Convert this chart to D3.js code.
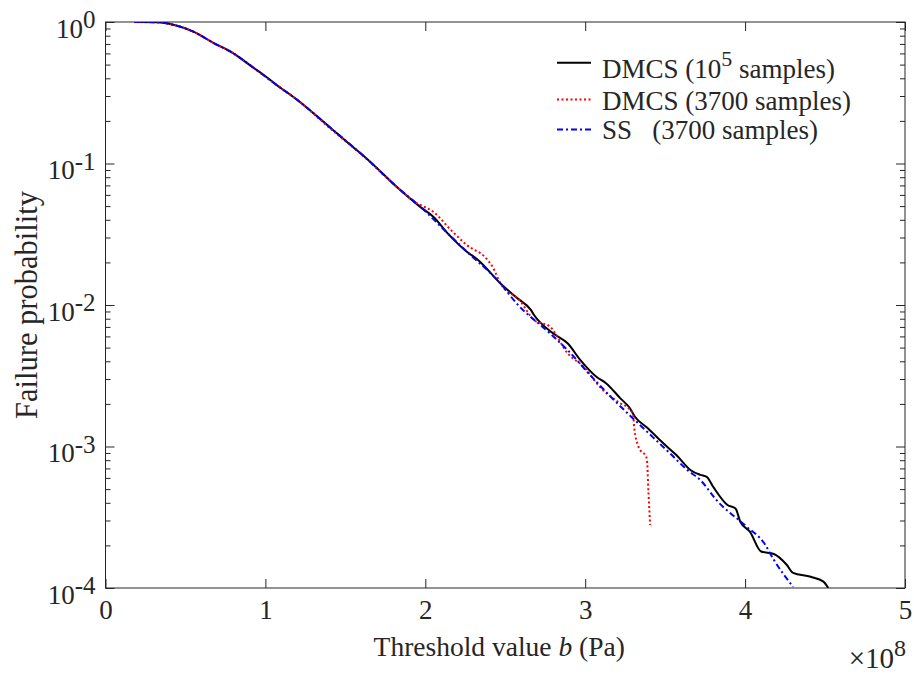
<!DOCTYPE html>
<html><head><meta charset="utf-8">
<script src="https://cdn.jsdelivr.net/npm/d3@7"></script>
<style>
body{margin:0;background:#fff}
svg{display:block}
text{font-family:"Liberation Serif","Times New Roman",serif;fill:#262626}
</style>
</head><body>
<svg id="chart" width="914" height="677"></svg>
<script>
// ---- data (b in units of 1e8 Pa, failure probability) ----
const xTickValues = [0, 1, 2, 3, 4, 5];
const yTickExponents = [0, -1, -2, -3, -4];
const xMultiplierExp = "8";

const dmcsRefB = [0.18,0.32,0.43,0.55,0.68,0.79,0.93,0.99,1.07,1.20,1.41,1.57,1.62,1.82,1.98,2.05,2.14,2.26,2.33,2.47,2.57,2.66,2.68,2.80,2.89,2.97,3.07,3.13,3.22,3.28,3.31,3.39,3.49,3.57,3.66,3.72,3.76,3.80,3.89,3.94,3.97,4.03,4.10,4.18,4.26,4.30,4.41,4.49,4.52];
const dmcsRefP = [1.0,0.997,0.953,0.855,0.706,0.61,0.471,0.422,0.359,0.281,0.1774,0.1245,0.1117,0.0686,0.0482,0.0421,0.0321,0.0238,0.0208,0.0142,0.0113,0.00923,0.0085,0.0063,0.00536,0.00408,0.00311,0.0028,0.00219,0.00186,0.00163,0.00135,0.00105,0.00087,0.00068,0.00063,0.00061,0.00052,0.000386,0.000365,0.000294,0.00025,0.000181,0.000174,0.000146,0.000128,0.00012,0.000111,0.0001];

const dmcsB = [0.18,0.32,0.43,0.55,0.68,0.79,0.93,1.07,1.20,1.41,1.62,1.82,1.95,1.97,2.05,2.16,2.26,2.38,2.42,2.47,2.59,2.68,2.78,2.89,2.99,3.09,3.22,3.26,3.30,3.306,3.333,3.385,3.396,3.406];
const dmcsP = [1.0,0.997,0.953,0.855,0.706,0.61,0.471,0.359,0.281,0.175,0.111,0.0686,0.0523,0.0509,0.0456,0.0339,0.0265,0.0214,0.0187,0.0142,0.0108,0.00783,0.00703,0.00456,0.00366,0.00265,0.00202,0.00191,0.00167,0.00138,0.000998,0.000826,0.000467,0.000279];

const ssB = [0.18,0.32,0.43,0.55,0.68,0.79,0.93,1.07,1.20,1.41,1.62,1.82,1.98,2.14,2.26,2.47,2.57,2.78,2.89,3.05,3.18,3.32,3.53,3.64,3.72,3.82,4.01,4.12,4.18,4.30];
const ssP = [1.0,0.997,0.953,0.855,0.706,0.61,0.471,0.359,0.281,0.1774,0.1117,0.0686,0.0482,0.0321,0.0238,0.0142,0.0103,0.0063,0.0048,0.00303,0.00213,0.0015,0.000895,0.00068,0.00058,0.000419,0.000271,0.000207,0.000158,0.000102];

const seriesNames = ["DMCS (10", "DMCS (3700 samples)", "SS\u00a0\u00a0 (3700 samples)"];

// ---- layout ----
const svg = d3.select("#chart");
const L = 105.5, R = 905, T = 22, B = 588;
const FS = 27;
const x = d3.scaleLinear().domain([0, 5]).range([L, R]);
const y = d3.scaleLog().domain([1e-4, 1]).range([B, T]);
const axisColor = "#262626";

svg.append("rect").attr("width", 914).attr("height", 677).attr("fill", "#fff");

svg.append("defs").append("clipPath").attr("id", "clip")
  .append("rect").attr("x", L).attr("y", T).attr("width", R - L).attr("height", B - T);

const minorVals = [];
for (let e = -4; e < 0; e++) for (let m = 2; m <= 9; m++) minorVals.push(m * Math.pow(10, e));
const majorVals = yTickExponents.map(e => Math.pow(10, e));

function styleAxis(g) {
  g.select(".domain").remove();
  g.selectAll("line").attr("stroke", axisColor).attr("stroke-width", 1);
}

svg.append("g").attr("transform", `translate(0,${B})`)
  .call(d3.axisBottom(x).tickValues(xTickValues).tickSize(-9).tickSizeOuter(0).tickPadding(11.8).tickFormat(d3.format("d")))
  .call(styleAxis)
  .call(g => g.selectAll("text").attr("font-size", FS).attr("font-family", "Liberation Serif").attr("fill", axisColor));
svg.append("g").attr("transform", `translate(0,${T})`)
  .call(d3.axisTop(x).tickValues(xTickValues).tickSize(-9).tickSizeOuter(0).tickFormat(""))
  .call(styleAxis);
svg.append("g").attr("transform", `translate(${L},0)`)
  .call(d3.axisLeft(y).tickValues(majorVals).tickSize(-9).tickSizeOuter(0).tickFormat(""))
  .call(styleAxis);
svg.append("g").attr("transform", `translate(${L},0)`)
  .call(d3.axisLeft(y).tickValues(minorVals).tickSize(-5).tickSizeOuter(0).tickFormat(""))
  .call(styleAxis);
svg.append("g").attr("transform", `translate(${R},0)`)
  .call(d3.axisRight(y).tickValues(majorVals).tickSize(-9).tickSizeOuter(0).tickFormat(""))
  .call(styleAxis);
svg.append("g").attr("transform", `translate(${R},0)`)
  .call(d3.axisRight(y).tickValues(minorVals).tickSize(-5).tickSizeOuter(0).tickFormat(""))
  .call(styleAxis);

svg.append("rect").attr("x", L).attr("y", T).attr("width", R - L).attr("height", B - T)
  .attr("fill", "none").attr("stroke", axisColor).attr("stroke-width", 1);

yTickExponents.forEach(e => {
  const t = svg.append("text").attr("x", L - 10).attr("y", y(Math.pow(10, e)) + 15.7)
    .attr("text-anchor", "end").attr("font-size", FS).attr("fill", axisColor);
  t.append("tspan").text("10");
  t.append("tspan").attr("font-size", 25).attr("dy", -9.5).text(String(e));
});

const mt = svg.append("text").attr("x", R + 1).attr("y", 668).attr("text-anchor", "end")
  .attr("font-size", 29).attr("fill", axisColor);
mt.append("tspan").text("\u00d710");
mt.append("tspan").attr("font-size", 24).attr("dy", -12).text(xMultiplierExp);

const xt = svg.append("text").attr("x", (L + R) / 2 - 6).attr("y", 656).attr("text-anchor", "middle")
  .attr("font-size", 27.5).attr("fill", axisColor);
xt.append("tspan").text("Threshold value ");
xt.append("tspan").attr("font-style", "italic").text("b");
xt.append("tspan").text(" (Pa)");

svg.append("text").attr("transform", `translate(37,${(T + B) / 2}) rotate(-90)`)
  .attr("text-anchor", "middle").attr("font-size", 30.5).attr("fill", axisColor)
  .text("Failure probability");

const line = d3.line().x(d => x(d[0])).y(d => y(d[1])).curve(d3.curveMonotoneX);
const plot = svg.append("g").attr("clip-path", "url(#clip)");
const series = [
  {b: dmcsRefB, p: dmcsRefP, color: "#000000", dash: null},
  {b: dmcsB, p: dmcsP, color: "#ff0000", dash: "2,2.5"},
  {b: ssB, p: ssP, color: "#0000ff", dash: "6,3,2,3"}
];
series.forEach(s => {
  const pts = s.b.map((b, k) => [b, s.p[k]]);
  plot.append("path").datum(pts).attr("d", line).attr("fill", "none")
    .attr("stroke", s.color).attr("stroke-width", 2)
    .attr("stroke-dasharray", s.dash);
});

const legY = [62.7, 99.5, 129.5];
const legBase = [77.5, 110, 139];
series.forEach((s, i) => {
  svg.append("line").attr("x1", 557).attr("x2", 591).attr("y1", legY[i]).attr("y2", legY[i])
    .attr("stroke", s.color).attr("stroke-width", 2).attr("stroke-dasharray", s.dash);
  const t = svg.append("text").attr("x", 602).attr("y", legBase[i]).attr("font-size", FS).attr("fill", "#000");
  if (i === 0) {
    t.append("tspan").text(seriesNames[0]);
    t.append("tspan").attr("font-size", 22).attr("dy", -12).text("5");
    t.append("tspan").attr("dy", 12).text(" samples)");
  } else {
    t.append("tspan").text(seriesNames[i]);
  }
});
</script>
</body></html>
